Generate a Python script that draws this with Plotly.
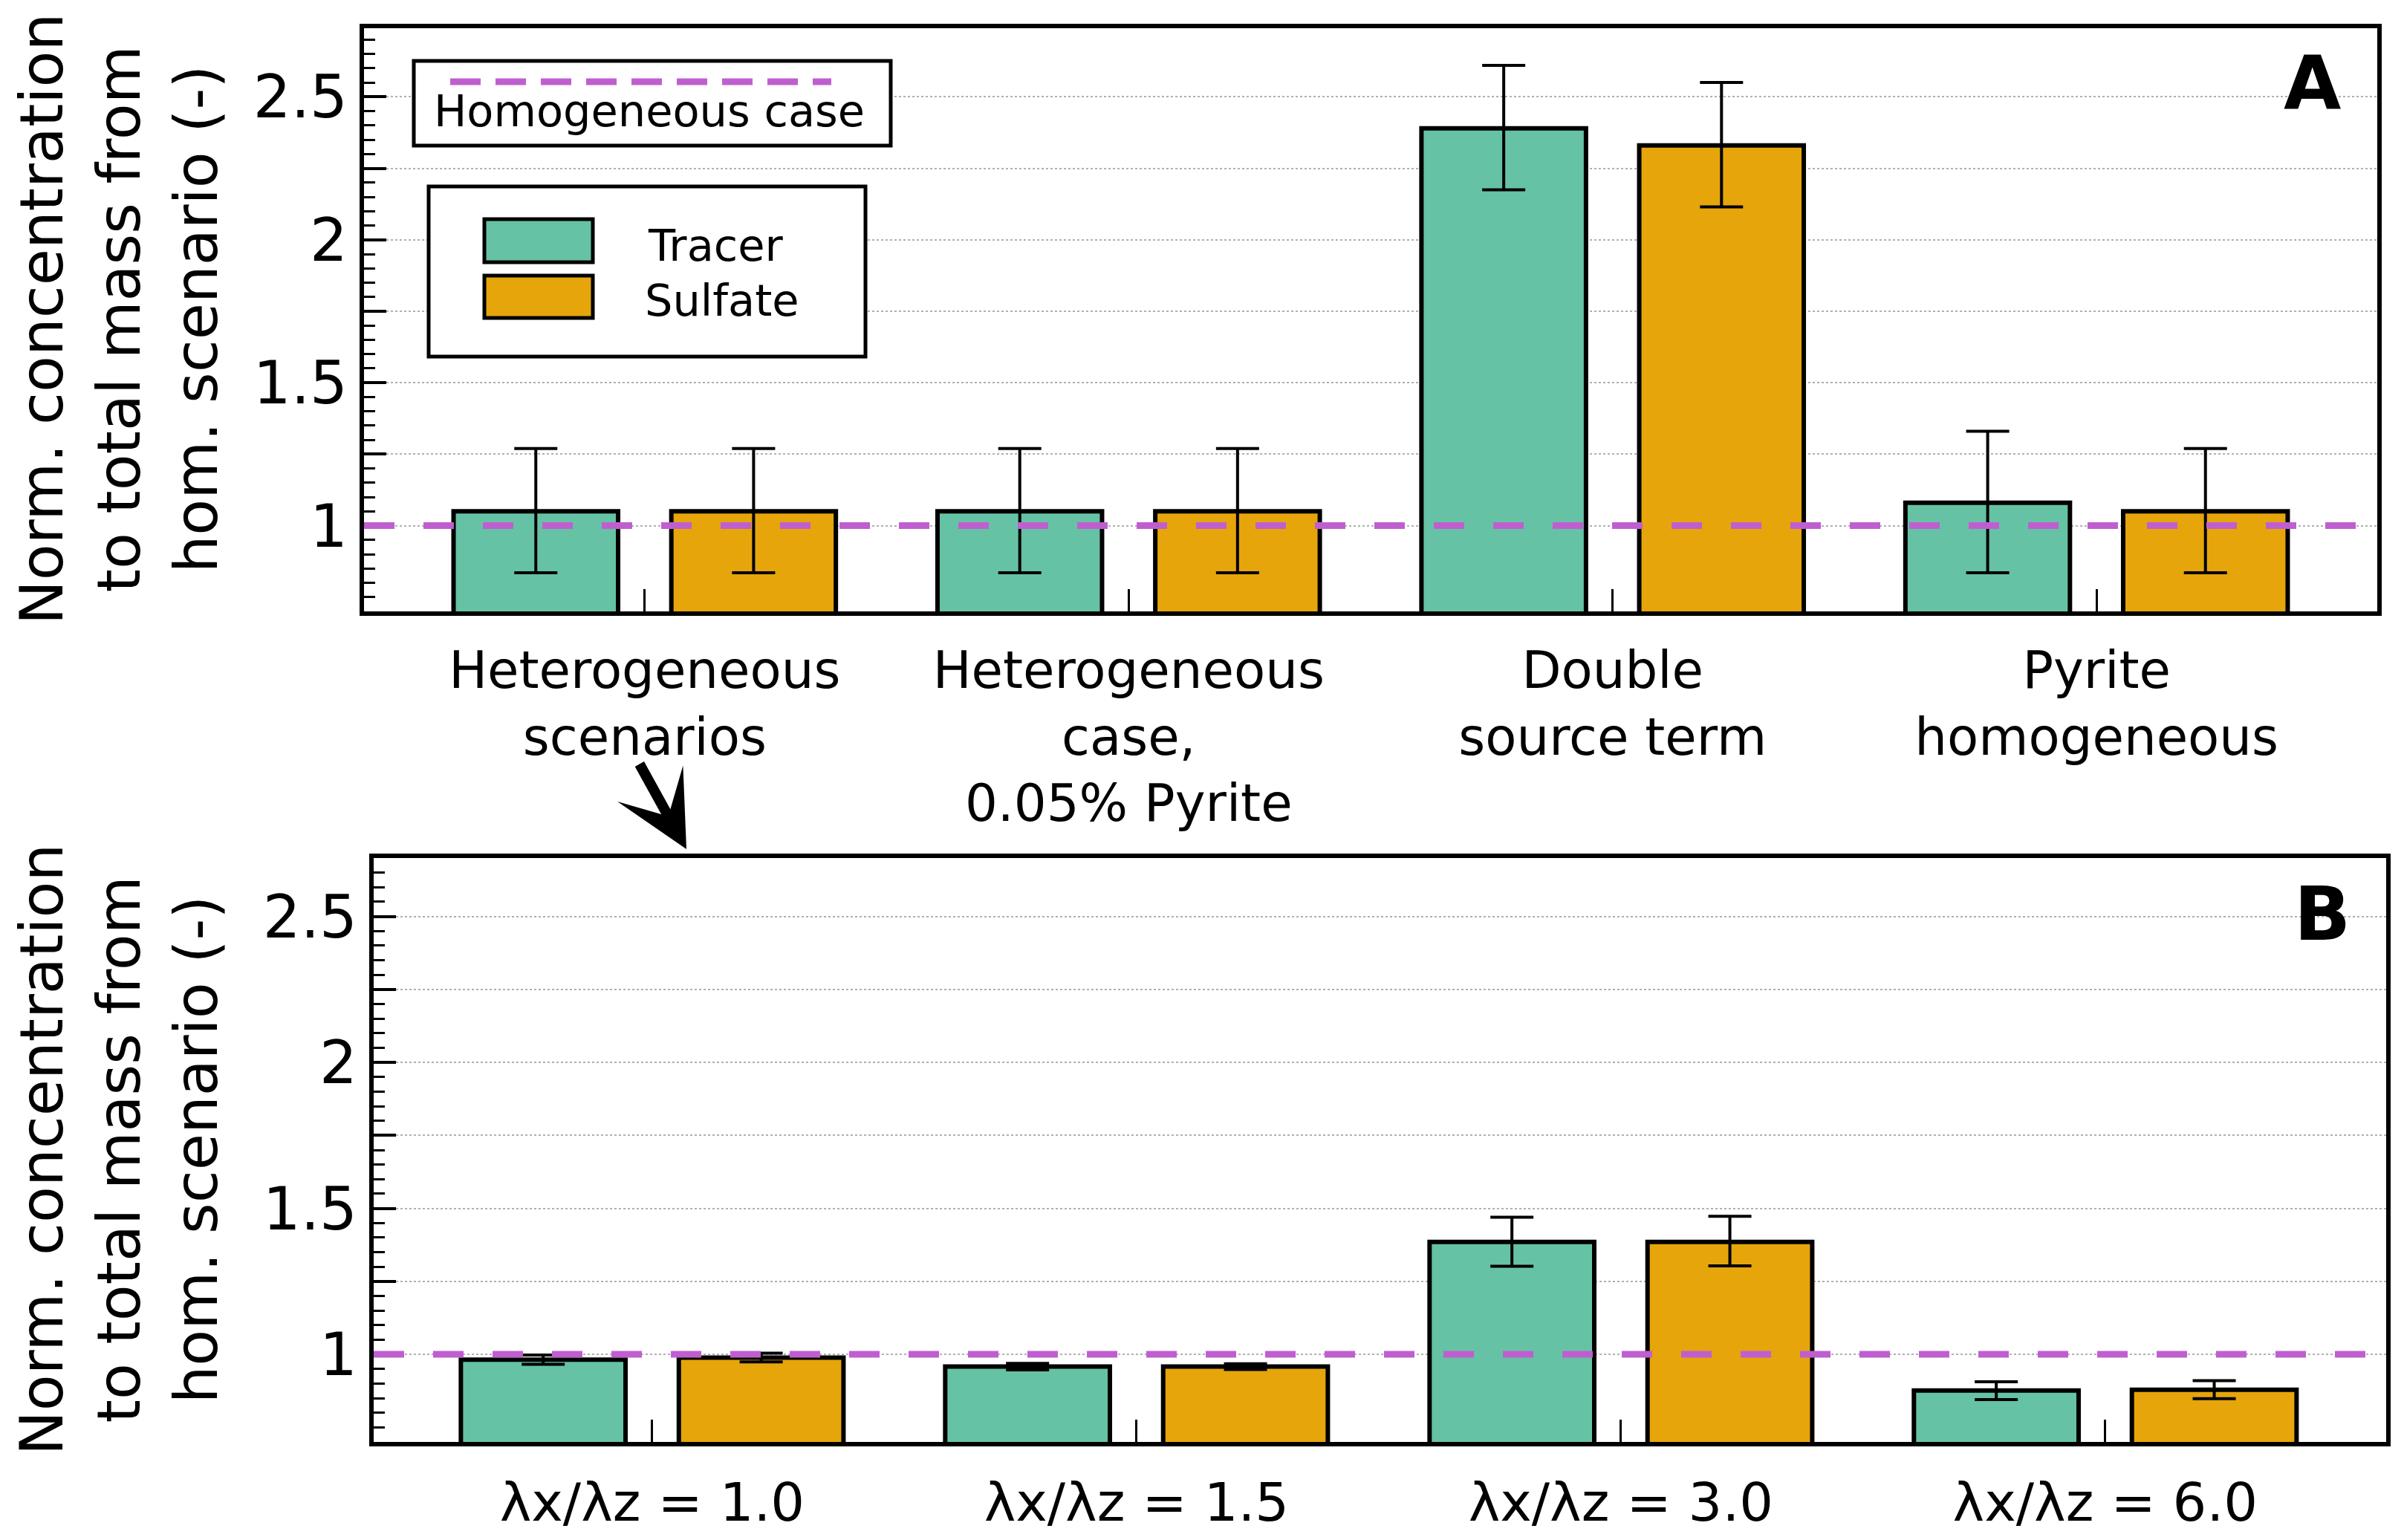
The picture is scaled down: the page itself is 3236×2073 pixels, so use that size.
import plotly.graph_objects as go

# The page body has an 8 px margin, so the figure is drawn 8 px in from the
# top-left corner of the 3236x2073 window.
PAGE_MARGIN = 8
W, H = 3236 - 2 * PAGE_MARGIN, 2073 - 2 * PAGE_MARGIN

# ---------------- data ----------------
POSITIONS = [0, 1, 2, 3]
CATEGORIES_A = ["Heterogeneous<br>scenarios",
                "Heterogeneous<br>case,<br>0.05% Pyrite",
                "Double<br>source term",
                "Pyrite<br>homogeneous"]
CATEGORIES_B = ["λx/λz = 1.0", "λx/λz = 1.5", "λx/λz = 3.0", "λx/λz = 6.0"]

TRACER_A = [1.05, 1.05, 2.39, 1.08]
TRACER_A_ERR_UP = [0.22, 0.22, 0.22, 0.25]
TRACER_A_ERR_DOWN = [0.215, 0.215, 0.215, 0.245]
SULFATE_A = [1.05, 1.05, 2.33, 1.05]
SULFATE_A_ERR_UP = [0.22, 0.22, 0.22, 0.22]
SULFATE_A_ERR_DOWN = [0.215, 0.215, 0.215, 0.215]

TRACER_B = [0.982, 0.958, 1.385, 0.876]
TRACER_B_ERR_UP = [0.016, 0.011, 0.085, 0.030]
TRACER_B_ERR_DOWN = [0.016, 0.011, 0.083, 0.031]
SULFATE_B = [0.989, 0.958, 1.385, 0.879]
SULFATE_B_ERR_UP = [0.015, 0.010, 0.088, 0.031]
SULFATE_B_ERR_DOWN = [0.015, 0.010, 0.082, 0.031]

HOMOGENEOUS_LEVEL = 1.0

Y_TICKVALS = [1, 1.25, 1.5, 1.75, 2, 2.25, 2.5]
Y_TICKTEXT = ["1", "", "1.5", "", "2", "", "2.5"]

SERIES_NAMES = ["Tracer", "Sulfate"]
HOM_NAME = "Homogeneous case"
Y_TITLE = "Norm. concentration<br>to total mass from<br>hom. scenario (-)"

# ---------------- style ----------------
GREEN = "#66C2A5"
ORANGE = "#E5A50B"
PURPLE = "#BF5FCF"
FONT = "DejaVu Sans"
BAR_W = 0.34
OFF_T = -0.395
OFF_S = 0.055


def px(x):
    return (x - PAGE_MARGIN) / W


def py(y):
    return 1 - (y - PAGE_MARGIN) / H


def bar(x, y, up, down, color, name, xa, ya, off):
    return go.Bar(
        x=x, y=y, name=name, width=BAR_W, offset=off,
        marker=dict(color=color, line=dict(color="black", width=6)),
        error_y=dict(type="data", symmetric=False, array=up, arrayminus=down,
                     color="black", thickness=4, width=29),
        xaxis=xa, yaxis=ya, showlegend=False,
    )


fig = go.Figure()
fig.add_trace(bar(POSITIONS, TRACER_A, TRACER_A_ERR_UP, TRACER_A_ERR_DOWN, GREEN, SERIES_NAMES[0], "x", "y", OFF_T))
fig.add_trace(bar(POSITIONS, SULFATE_A, SULFATE_A_ERR_UP, SULFATE_A_ERR_DOWN, ORANGE, SERIES_NAMES[1], "x", "y", OFF_S))
fig.add_trace(bar(POSITIONS, TRACER_B, TRACER_B_ERR_UP, TRACER_B_ERR_DOWN, GREEN, SERIES_NAMES[0], "x2", "y2", OFF_T))
fig.add_trace(bar(POSITIONS, SULFATE_B, SULFATE_B_ERR_UP, SULFATE_B_ERR_DOWN, ORANGE, SERIES_NAMES[1], "x2", "y2", OFF_S))


def xax(domain, rng, anchor, labels, fsize):
    return dict(
        domain=domain, range=rng, anchor=anchor,
        tickmode="array", tickvals=POSITIONS, ticktext=labels,
        ticks="inside", ticklen=30, tickwidth=3, tickcolor="black",
        showgrid=False, zeroline=False,
        showline=True, linecolor="black", linewidth=6, mirror=True,
        tickfont=dict(family=FONT, size=fsize, color="black"),
        ticklabelstandoff=14,
        automargin=False,
    )


def yax(domain, rng, anchor):
    return dict(
        domain=domain, range=rng, anchor=anchor,
        tickmode="array", tickvals=Y_TICKVALS, ticktext=Y_TICKTEXT,
        ticks="inside", ticklen=30, tickwidth=4, tickcolor="black",
        showgrid=True, gridcolor="#b0b0b0", gridwidth=2, griddash="dot",
        zeroline=False,
        showline=True, linecolor="black", linewidth=6, mirror=True,
        tickfont=dict(family=FONT, size=80, color="black"),
        minor=dict(dtick=0.05, tick0=0, ticks="inside", ticklen=15,
                   tickwidth=3, tickcolor="black", showgrid=False),
        automargin=False,
    )


fig.update_layout(
    width=W, height=H,
    margin=dict(l=0, r=0, t=0, b=0),
    paper_bgcolor="white", plot_bgcolor="white",
    barmode="overlay",
    font=dict(family=FONT, color="black"),
    xaxis=xax([px(490), px(3200)], [-0.58, 3.58], "y", CATEGORIES_A, 69),
    yaxis=yax([py(823), py(38)], [0.7, 2.74], "x"),
    xaxis2=xax([px(503), px(3212)], [-0.575, 3.58], "y2", CATEGORIES_B, 72),
    yaxis2=yax([py(1941), py(1155)], [0.7, 2.70], "x2"),
    showlegend=False,
)

shapes = []
# homogeneous reference lines
for xr, yr in (("x domain", "y"), ("x2 domain", "y2")):
    shapes.append(dict(type="line", xref=xr, yref=yr, x0=0, x1=1,
                       y0=HOMOGENEOUS_LEVEL, y1=HOMOGENEOUS_LEVEL,
                       line=dict(color=PURPLE, width=9, dash="41px,39px"),
                       layer="above"))

# legend 1 box (Homogeneous case)
shapes.append(dict(type="rect", xref="paper", yref="paper",
                   x0=px(557), x1=px(1199), y0=py(196), y1=py(82),
                   line=dict(color="black", width=5), fillcolor="white", layer="above"))
shapes.append(dict(type="line", xref="paper", yref="paper",
                   x0=px(606), x1=px(1119), y0=py(110), y1=py(110),
                   line=dict(color=PURPLE, width=9, dash="41px,20px"), layer="above"))
# legend 2 box (Tracer / Sulfate)
shapes.append(dict(type="rect", xref="paper", yref="paper",
                   x0=px(577), x1=px(1165), y0=py(480), y1=py(251),
                   line=dict(color="black", width=5), fillcolor="white", layer="above"))
shapes.append(dict(type="rect", xref="paper", yref="paper",
                   x0=px(652), x1=px(798), y0=py(353), y1=py(295),
                   line=dict(color="black", width=5), fillcolor=GREEN, layer="above"))
shapes.append(dict(type="rect", xref="paper", yref="paper",
                   x0=px(652), x1=px(798), y0=py(428), y1=py(371),
                   line=dict(color="black", width=5), fillcolor=ORANGE, layer="above"))
fig.update_layout(shapes=shapes)

ann = []
ann.append(dict(text=HOM_NAME, xref="paper", yref="paper", x=px(582), y=py(150),
                xanchor="left", yanchor="middle", showarrow=False,
                font=dict(family=FONT, size=59, color="black")))
ann.append(dict(text=SERIES_NAMES[0], xref="paper", yref="paper", x=px(870), y=py(330),
                xanchor="left", yanchor="middle", showarrow=False,
                font=dict(family=FONT, size=59, color="black")))
ann.append(dict(text=SERIES_NAMES[1], xref="paper", yref="paper", x=px(866), y=py(405),
                xanchor="left", yanchor="middle", showarrow=False,
                font=dict(family=FONT, size=59, color="black")))
# panel letters
ann.append(dict(text="<b>A</b>", xref="paper", yref="paper", x=px(3153), y=py(111),
                xanchor="right", yanchor="middle", showarrow=False,
                font=dict(family=FONT, size=100, color="black")))
ann.append(dict(text="<b>B</b>", xref="paper", yref="paper", x=px(3166), y=py(1230),
                xanchor="right", yanchor="middle", showarrow=False,
                font=dict(family=FONT, size=100, color="black")))
# y titles
for yc in (430, 1548):
    ann.append(dict(text=Y_TITLE, xref="paper", yref="paper", x=px(160), y=py(yc),
                    xanchor="center", yanchor="middle", textangle=-90, showarrow=False,
                    align="center", font=dict(family=FONT, size=80, color="black")))
# arrow
ann.append(dict(text="", xref="paper", yref="paper", x=px(924), y=py(1143),
                ax=-64, ay=-116, showarrow=True, arrowhead=3, arrowsize=1.2,
                arrowwidth=14, arrowcolor="black"))
fig.update_layout(annotations=ann)

fig.write_html("out.html")
